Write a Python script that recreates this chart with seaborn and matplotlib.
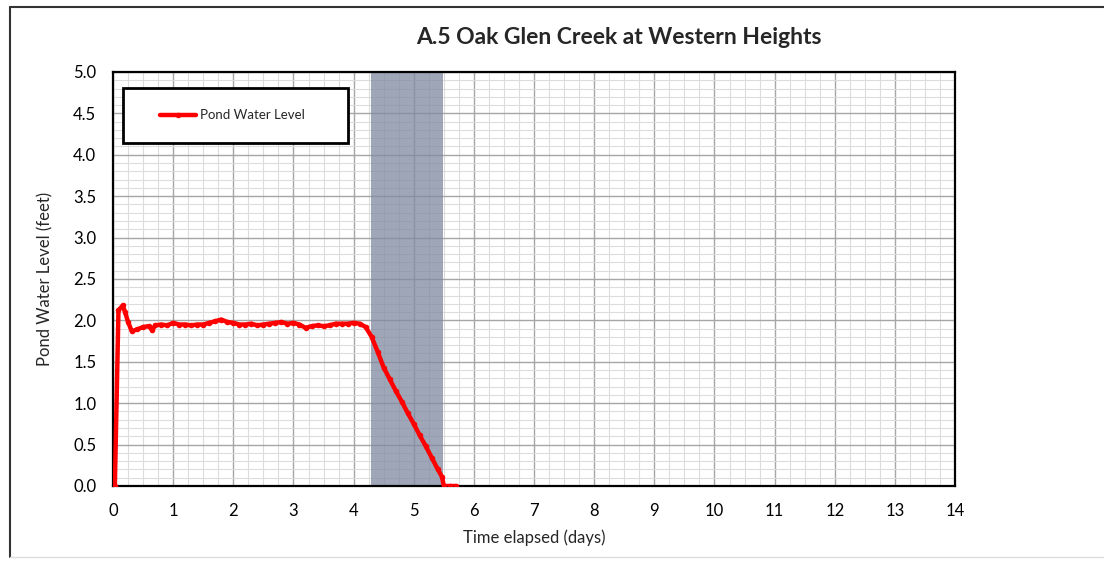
import numpy as np
import pandas as pd
import matplotlib
matplotlib.use('Agg')
import matplotlib.pyplot as plt
from matplotlib.lines import Line2D
from matplotlib.patches import Rectangle
from matplotlib.ticker import MultipleLocator
import seaborn as sns

time_days = [0.03, 0.09, 0.16, 0.2, 0.25, 0.31, 0.4, 0.5, 0.6, 0.65, 0.7, 0.8, 0.9,
             1.0, 1.1, 1.2, 1.3, 1.4, 1.5, 1.6, 1.7, 1.8, 1.9, 2.0, 2.1, 2.2, 2.3,
             2.4, 2.5, 2.6, 2.7, 2.8, 2.9, 3.0, 3.1, 3.2, 3.3, 3.4, 3.5, 3.6, 3.7,
             3.8, 3.9, 4.0, 4.1, 4.2, 4.3, 4.4, 4.5, 4.6, 4.7, 4.8, 4.9, 5.0, 5.1,
             5.2, 5.3, 5.4, 5.47, 5.5, 5.6, 5.7]
water_level = [0.0, 2.12, 2.18, 2.1, 1.98, 1.87, 1.89, 1.92, 1.93, 1.88, 1.94, 1.95, 1.94,
               1.97, 1.95, 1.95, 1.94, 1.95, 1.95, 1.97, 1.99, 2.01, 1.98, 1.97, 1.95, 1.95, 1.96,
               1.94, 1.95, 1.96, 1.97, 1.98, 1.96, 1.97, 1.95, 1.91, 1.93, 1.94, 1.93, 1.94, 1.96,
               1.96, 1.96, 1.97, 1.96, 1.92, 1.80, 1.62, 1.43, 1.29, 1.15, 1.02, 0.88, 0.75, 0.61,
               0.48, 0.34, 0.20, 0.11, 0.0, 0.0, 0.0]
shade_start, shade_end = 4.29, 5.49

df = pd.DataFrame({'Time': time_days, 'Level': water_level})

sns.set_style('white')
plt.rcParams['font.family'] = ['Lato', 'DejaVu Sans']

fig = plt.figure(figsize=(11.04, 5.63), dpi=100)
ax = fig.add_axes([0.1024, 0.1368, 0.7627, 0.7354])

ax.axvspan(shade_start, shade_end, color='#7f89a0', alpha=0.75, lw=0, zorder=1)
sns.lineplot(data=df, x='Time', y='Level', ax=ax, color='red', lw=3.2,
             marker='o', markersize=4, markeredgewidth=0, label='Pond Water Level', zorder=3)

ax.set_xlim(0, 14)
ax.set_ylim(0, 5)
ax.xaxis.set_major_locator(MultipleLocator(1))
ax.xaxis.set_minor_locator(MultipleLocator(0.25))
ax.yaxis.set_major_locator(MultipleLocator(0.5))
ax.yaxis.set_minor_locator(MultipleLocator(0.1))
ax.yaxis.set_major_formatter(matplotlib.ticker.FormatStrFormatter('%.1f'))
ax.grid(which='major', color='#a6a6a6', lw=1.0, zorder=0)
ax.grid(which='minor', color='#dcdcdc', lw=0.8, zorder=0)
ax.set_axisbelow(True)
ax.tick_params(which='both', length=0, labelsize=12, colors='black', pad=12)
for s in ax.spines.values():
    s.set_color('black')
    s.set_linewidth(1.6)

ax.set_xlabel('Time elapsed (days)', fontsize=12, labelpad=8)
ax.set_ylabel('Pond Water Level (feet)', fontsize=12, labelpad=14)

# legend box
ax.add_patch(Rectangle((0.0119, 0.828), 0.267, 0.133, transform=ax.transAxes,
                       facecolor='white', edgecolor='black', lw=2, zorder=4))
ax.legend(loc='center left', bbox_to_anchor=(0.0558, 0.895), fontsize=9.5,
          borderpad=0, borderaxespad=0, handlelength=2.7, handletextpad=0.3, frameon=False)

fig.text(0.561, 0.933, 'A.5 Oak Glen Creek at Western Heights', ha='center', va='center',
         fontsize=16.5, fontweight='bold')

# outer chart frame
fig.add_artist(Line2D([0.009, 0.009], [0.01, 0.988], color='#333333', lw=1.5))
fig.add_artist(Line2D([0.009, 1.0], [0.988, 0.988], color='#333333', lw=1.5))
fig.add_artist(Line2D([0.009, 1.0], [0.01, 0.01], color='#dddddd', lw=1))

fig.savefig('out.png', dpi=100)
